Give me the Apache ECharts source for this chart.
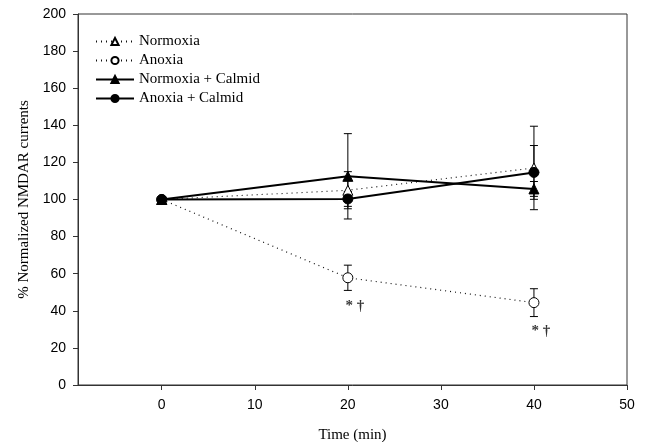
<!DOCTYPE html>
<html>
<head>
<meta charset="utf-8">
<script src="https://cdn.jsdelivr.net/npm/echarts@6/dist/echarts.min.js"></script>
<style>
  html, body { margin: 0; padding: 0; background: #fff; }
  #chart { width: 648px; height: 442px; }
</style>
</head>
<body>
<div id="chart"></div>
<script>
// data
const times = [0, 20, 40];
const xTicks = [0, 10, 20, 30, 40, 50];

const normoxia = [100, 105, 117];
const normoxiaErr = [0, 10, 22.5];
const anoxia = [100, 57.8, 44.4];
const anoxiaErr = [0, 6.8, 7.5];
const normoxiaCalmid = [100, 112.5, 105.7];
const normoxiaCalmidErr = [0, 23, 4];
const anoxiaCalmid = [100, 100.3, 114.6];
const anoxiaCalmidErr = [0, 4, 14.5];

// significance marks under the anoxia points
const markX = [20.75, 40.75];
const markY = [42.6, 29.1];
const markText = ['* †', '* †'];

const names = ['Normoxia', 'Anoxia', 'Normoxia + Calmid', 'Anoxia + Calmid'];

const toPoints = vals => times.map((t, i) => [t, vals[i]]);

// error bar series (drawn under the markers)
const errorSeries = (vals, errs) => ({
    type: 'custom',
    silent: true,
    z: 1,
    data: times.map((t, i) => [t, vals[i] - errs[i], vals[i] + errs[i]]).filter((d, i) => errs[i] > 0),
    encode: { x: 0, y: [1, 2] },
    renderItem: (params, api) => {
        const lo = api.coord([api.value(0), api.value(1)]);
        const hi = api.coord([api.value(0), api.value(2)]);
        const w = 4;
        const st = { stroke: '#000', lineWidth: 1 };
        return {
            type: 'group',
            children: [
                { type: 'line', shape: { x1: lo[0], y1: lo[1], x2: hi[0], y2: hi[1] }, style: st },
                { type: 'line', shape: { x1: lo[0] - w, y1: lo[1], x2: lo[0] + w, y2: lo[1] }, style: st },
                { type: 'line', shape: { x1: hi[0] - w, y1: hi[1], x2: hi[0] + w, y2: hi[1] }, style: st }
            ]
        };
    }
});

const dotted = { color: '#111', width: 1.2, type: [1, 4] };
const solid = { color: '#000', width: 2 };
const openStyle = { color: '#fff', borderColor: '#000', borderWidth: 1 };
const fillStyle = { color: '#000', borderColor: '#000', borderWidth: 1 };

const myChart = echarts.init(document.getElementById('chart'));

const option = {
    animation: false,
    grid: {
        left: 78, right: 21, top: 14, bottom: 57,
        outerBoundsMode: 'none',
        show: true, borderColor: '#333', borderWidth: 1
    },
    legend: {
        data: names,
        orient: 'vertical',
        left: 95,
        top: 34,
        itemWidth: 38,
        itemHeight: 9,
        itemGap: 4,
        padding: 0,
        textStyle: { fontFamily: 'Liberation Serif', fontSize: 15, color: '#000' }
    },
    xAxis: {
        type: 'value',
        min: -9,
        max: 50,
        name: 'Time (min)',
        nameLocation: 'middle',
        nameGap: 43,
        nameTextStyle: { fontFamily: 'Liberation Serif', fontSize: 15, color: '#000' },
        axisLine: { onZero: false, lineStyle: { color: '#333', width: 1 } },
        axisTick: { customValues: xTicks, length: 5, lineStyle: { color: '#333' } },
        axisLabel: { customValues: xTicks, margin: 13, fontFamily: 'Liberation Sans', fontSize: 14, color: '#000' },
        splitLine: { show: false }
    },
    yAxis: {
        type: 'value',
        min: 0,
        max: 200,
        interval: 20,
        name: '% Normalized NMDAR currents',
        nameLocation: 'middle',
        nameGap: 46,
        nameTextStyle: { fontFamily: 'Liberation Serif', fontSize: 15, color: '#000' },
        axisLine: { show: true, onZero: false, lineStyle: { color: '#333', width: 1 } },
        axisTick: { show: true, length: 5, lineStyle: { color: '#333' } },
        axisLabel: { margin: 12, fontFamily: 'Liberation Sans', fontSize: 14, color: '#000' },
        splitLine: { show: false }
    },
    series: [
        errorSeries(normoxia, normoxiaErr),
        errorSeries(anoxia, anoxiaErr),
        errorSeries(normoxiaCalmid, normoxiaCalmidErr),
        errorSeries(anoxiaCalmid, anoxiaCalmidErr),
        {
            name: 'Normoxia', type: 'line', z: 3,
            data: toPoints(normoxia),
            symbol: 'triangle', symbolSize: 10,
            lineStyle: dotted, itemStyle: openStyle
        },
        {
            name: 'Anoxia', type: 'line', z: 3,
            data: toPoints(anoxia),
            symbol: 'circle', symbolSize: 10,
            lineStyle: dotted, itemStyle: openStyle
        },
        {
            name: 'Normoxia + Calmid', type: 'line', z: 4,
            data: toPoints(normoxiaCalmid),
            symbol: 'triangle', symbolSize: 10,
            lineStyle: solid, itemStyle: fillStyle
        },
        {
            name: 'Anoxia + Calmid', type: 'line', z: 4,
            data: toPoints(anoxiaCalmid),
            symbol: 'circle', symbolSize: 10,
            lineStyle: solid, itemStyle: fillStyle
        },
        {
            type: 'scatter', silent: true, z: 5,
            symbolSize: 0,
            data: markX.map((x, i) => [x, markY[i], markText[i]]),
            label: {
                show: true,
                position: 'inside',
                formatter: p => p.data[2],
                fontFamily: 'Liberation Serif',
                fontSize: 15,
                fontWeight: 'bold',
                color: '#000'
            }
        }
    ]
};

myChart.setOption(option);
</script>
</body>
</html>
